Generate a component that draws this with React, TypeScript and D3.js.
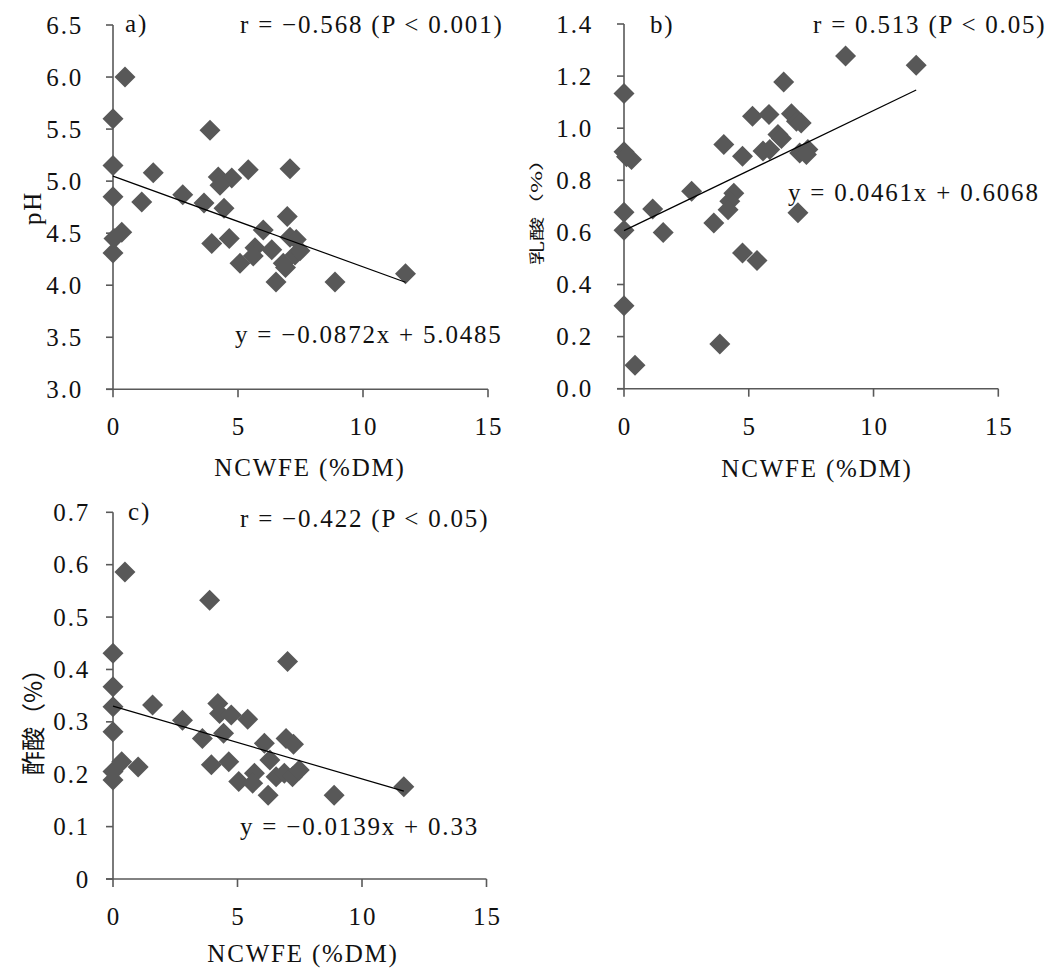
import React from "react";
import * as d3 from "d3";

// ---- Data ----
const phX = [0.48, 0, 3.88, 0, 1.61, 4.21, 4.75, 4.28, 5.41, 7.08, 0, 1.15, 2.79, 3.64, 4.44, 6.97, 0.35, 0.04, 0, 3.95, 4.65, 6.01, 7.08, 7.33, 5.08, 5.68, 5.61, 6.35, 6.81, 7.28, 7.48, 6.52, 6.9, 8.88, 11.7];
const phY = [6.0, 5.6, 5.49, 5.15, 5.08, 5.04, 5.03, 4.96, 5.11, 5.12, 4.85, 4.8, 4.87, 4.79, 4.74, 4.66, 4.51, 4.45, 4.31, 4.4, 4.45, 4.53, 4.46, 4.44, 4.21, 4.36, 4.28, 4.34, 4.21, 4.29, 4.33, 4.03, 4.17, 4.03, 4.11];

const lacticX = [0, 0, 0.1, 0.3, 0, 0, 0, 0.44, 1.15, 1.57, 2.71, 3.6, 4.0, 3.84, 4.4, 4.24, 4.17, 4.75, 4.75, 5.33, 5.15, 5.81, 6.4, 6.71, 6.91, 6.17, 5.84, 5.57, 6.31, 6.97, 7.04, 7.37, 7.1, 7.31, 8.88, 11.71];
const lacticY = [1.133, 0.91, 0.89, 0.88, 0.677, 0.608, 0.318, 0.09, 0.69, 0.6, 0.758, 0.636, 0.937, 0.172, 0.75, 0.72, 0.687, 0.892, 0.521, 0.492, 1.046, 1.053, 1.177, 1.055, 1.027, 0.976, 0.918, 0.912, 0.96, 0.675, 0.905, 0.918, 1.02, 0.899, 1.277, 1.242];

const aceticX = [0.48, 3.88, 0, 7.01, 0, 0, 1.59, 2.79, 0, 4.21, 4.28, 4.75, 5.41, 3.59, 4.44, 6.08, 6.95, 7.25, 6.3, 0, 0, 0.35, 1.01, 3.95, 4.65, 5.05, 5.68, 5.61, 6.23, 6.55, 6.88, 7.21, 7.48, 8.88, 11.68];
const aceticY = [0.586, 0.532, 0.431, 0.415, 0.367, 0.329, 0.332, 0.303, 0.281, 0.335, 0.316, 0.313, 0.305, 0.268, 0.278, 0.259, 0.268, 0.257, 0.227, 0.205, 0.189, 0.224, 0.214, 0.218, 0.224, 0.186, 0.202, 0.183, 0.16, 0.195, 0.202, 0.195, 0.208, 0.16, 0.176];

const xTicks = [0, 5, 10, 15];
const phTicks = [3.0, 3.5, 4.0, 4.5, 5.0, 5.5, 6.0, 6.5];
const lacticTicks = [0.0, 0.2, 0.4, 0.6, 0.8, 1.0, 1.2, 1.4];
const aceticTicks = [0, 0.1, 0.2, 0.3, 0.4, 0.5, 0.6, 0.7];

const trendSlopes = [-0.0872, 0.0461, -0.0139];
const trendIntercepts = [5.0485, 0.6068, 0.33];
const panelLetters = ["a)", "b)", "c)"];
const rLabels = ["r = \u22120.568 (P < 0.001)", "r = 0.513 (P < 0.05)", "r = \u22120.422 (P < 0.05)"];
const eqLabels = ["y = \u22120.0872x + 5.0485", "y = 0.0461x + 0.6068", "y = \u22120.0139x + 0.33"];
const xTitle = "NCWFE (%DM)";
const yTitles = ["pH", "乳酸（%）", "酢酸（%）"];

const SERIF = "Liberation Serif, Times New Roman, Times, Tinos, DejaVu Serif, Noto Serif, serif";
const CJK = "Noto Sans CJK JP, Noto Sans CJK SC, sans-serif";
const AXIS = "#595959";
const MARK = "#585858";
const FS = 25;
const LS = 1.8;

type PanelProps = {
  xs: number[];
  ys: number[];
  yDomain: [number, number];
  yTicks: number[];
  fmt: (d: number) => string;
  left: number;
  right: number;
  top: number;
  bottom: number;
  idx: number;
  tickLabelGap: number;
  letterPos: [number, number];
  rPos: [number, number];
  eqPos: [number, number];
  xTitlePos: [number, number];
  yTitle: React.ReactNode;
};

function Panel(p: PanelProps) {
  const x = d3.scaleLinear().domain([0, 15]).range([p.left, p.right]);
  const y = d3.scaleLinear().domain(p.yDomain).range([p.bottom, p.top]);
  const r = 10.5;
  const diamond = `M0,${-r}L${r},0L0,${r}L${-r},0Z`;
  const xmax = d3.max(p.xs) as number;
  const slope = trendSlopes[p.idx];
  const icpt = trendIntercepts[p.idx];
  const txt = { fontFamily: SERIF, fontSize: FS, letterSpacing: LS, fill: "#111" } as const;
  return (
    <g>
      <line x1={x(0)} x2={x(0)} y1={y(p.yDomain[0])} y2={y(p.yDomain[1])} stroke={AXIS} strokeWidth={1.6} />
      <line x1={x(0) - 7} x2={x(15)} y1={y(p.yDomain[0])} y2={y(p.yDomain[0])} stroke={AXIS} strokeWidth={1.6} />
      {p.yTicks.map((t) => (
        <g key={"yt" + t}>
          <line x1={x(0) - 7} x2={x(0)} y1={y(t)} y2={y(t)} stroke={AXIS} strokeWidth={1.6} />
          <text x={x(0) - p.tickLabelGap} y={y(t)} dy="0.34em" textAnchor="end" {...txt}>
            {p.fmt(t)}
          </text>
        </g>
      ))}
      {xTicks.map((t) => (
        <g key={"xt" + t}>
          <line x1={x(t)} x2={x(t)} y1={y(p.yDomain[0])} y2={y(p.yDomain[0]) + 8} stroke={AXIS} strokeWidth={1.6} />
          <text x={x(t) + LS / 2} y={y(p.yDomain[0]) + 46} textAnchor="middle" {...txt}>
            {t}
          </text>
        </g>
      ))}
      {p.xs.map((xv, i) => (
        <path key={"pt" + i} d={diamond} transform={`translate(${x(xv)},${y(p.ys[i])})`} fill={MARK} />
      ))}
      <line x1={x(0)} y1={y(icpt)} x2={x(xmax)} y2={y(icpt + slope * xmax)} stroke="#000" strokeWidth={1.2} />
      <text x={p.letterPos[0]} y={p.letterPos[1]} {...txt}>{panelLetters[p.idx]}</text>
      <text x={p.rPos[0]} y={p.rPos[1]} {...txt}>{rLabels[p.idx]}</text>
      <text x={p.eqPos[0]} y={p.eqPos[1]} {...txt}>{eqLabels[p.idx]}</text>
      <text x={p.xTitlePos[0]} y={p.xTitlePos[1]} textAnchor="middle" {...txt}>{xTitle}</text>
      {p.yTitle}
    </g>
  );
}

export default function App() {
  const fmt1 = (d: number) => d.toFixed(1);
  const fmtC = (d: number) => (d === 0 ? "0" : d.toFixed(1));
  return (
    <svg width={1058} height={976} style={{ position: "absolute", left: 0, top: 0, background: "#fff" }}>
      <rect width={1058} height={976} fill="#fff" />
      <Panel
        xs={phX}
        ys={phY}
        yDomain={[3, 6.5]}
        yTicks={phTicks}
        fmt={fmt1}
        left={113}
        right={488}
        top={25}
        bottom={389.3}
        idx={0}
        tickLabelGap={30}
        letterPos={[125, 32]}
        rPos={[240, 33]}
        eqPos={[235, 343]}
        xTitlePos={[310, 476]}
        yTitle={
          <text transform="translate(41,208) rotate(-90)" textAnchor="middle" fontFamily={SERIF} fontSize={FS} letterSpacing={LS} fill="#111">
            {yTitles[0]}
          </text>
        }
      />
      <Panel
        xs={lacticX}
        ys={lacticY}
        yDomain={[0, 1.4]}
        yTicks={lacticTicks}
        fmt={fmt1}
        left={624}
        right={998.3}
        top={24}
        bottom={388.7}
        idx={1}
        tickLabelGap={31}
        letterPos={[650, 33]}
        rPos={[813, 33]}
        eqPos={[788, 201]}
        xTitlePos={[817, 477]}
        yTitle={
          <text transform="translate(536,206) scale(0.6,1) rotate(-90)" textAnchor="middle" dominantBaseline="central" fontFamily={CJK} fontSize={24} fill="#111">
            {yTitles[1]}
          </text>
        }
      />
      <Panel
        xs={aceticX}
        ys={aceticY}
        yDomain={[0, 0.7]}
        yTicks={aceticTicks}
        fmt={fmtC}
        left={113}
        right={486.5}
        top={512.3}
        bottom={879}
        idx={2}
        tickLabelGap={23}
        letterPos={[128, 520]}
        rPos={[240, 527]}
        eqPos={[240, 835]}
        xTitlePos={[303, 962]}
        yTitle={
          <text transform="translate(31,716) rotate(-90)" textAnchor="middle" dominantBaseline="central" fontFamily={CJK} fontSize={24} fill="#111">
            {yTitles[2]}
          </text>
        }
      />
    </svg>
  );
}
